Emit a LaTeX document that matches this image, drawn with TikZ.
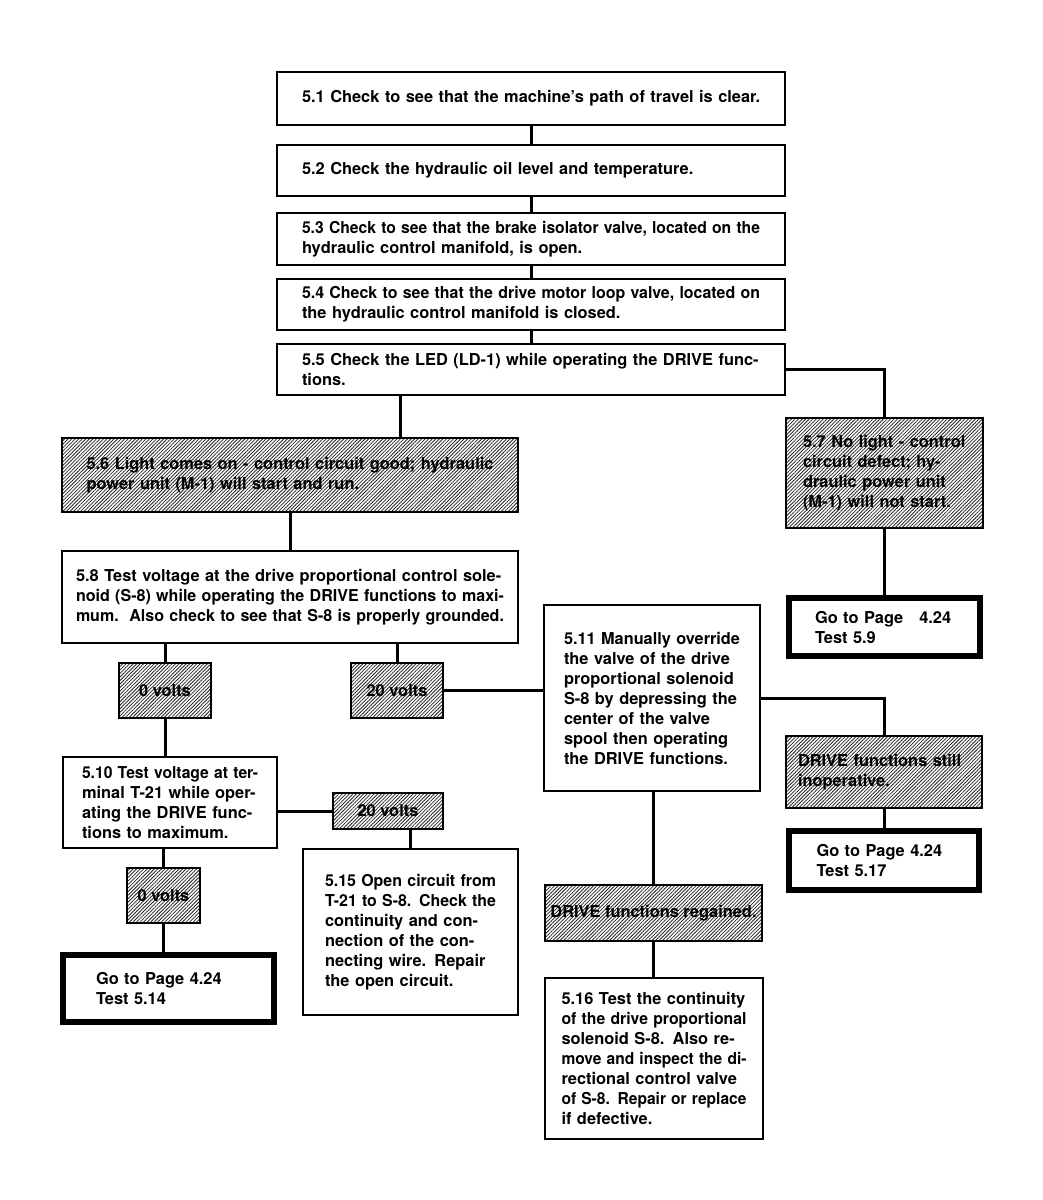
\documentclass[tikz,border=0pt]{standalone}
\usepackage{fontspec}
\setmainfont{TeX Gyre Heros}
\usepackage{graphicx}
\usetikzlibrary{patterns.meta}

\tikzset{
	stepbox/.style={draw, line width=2pt, font=\fontsize{16.4}{20}\selectfont\bfseries, align=left, inner ysep=0pt},
	hatchbox/.style={stepbox, preaction={fill=white}, pattern={Lines[angle=45,distance=2.5pt,line width=0.8pt]}, pattern color=black!85},
	gotobox/.style={stepbox, line width=6pt},
	link/.style={line width=3pt},
}
% full (justified) line, squeezed when too long
\newsavebox\flbox
\newcommand\fl[1]{\leavevmode\sbox\flbox{#1}\ifdim\wd\flbox>\linewidth\resizebox{\linewidth}{\height}{#1}\else\makebox[\linewidth][s]{#1}\fi}

\begin{document}
\begin{tikzpicture}[x=1pt,y=1pt,yscale=-1,xscale=1]
	\useasboundingbox (0,0) rectangle (1043,1200);

	% Text Node
	\node [stepbox, text width=458pt, inner xsep=25pt, minimum height=53pt] (b51) at (531,98.5) {\mbox{5.1 Check to see that the machine's path of travel is clear.}};
	% Text Node
	\node [stepbox, text width=458pt, inner xsep=25pt, minimum height=51pt] (b52) at (531,170.5) {5.2 Check the hydraulic oil level and temperature.};
	% Text Node
	\node [stepbox, text width=458pt, inner xsep=25pt, minimum height=52pt] (b53) at (531,239) {\fl{5.3 Check to see that the brake isolator valve, located on the}\\ hydraulic control manifold, is open.};
	% Text Node
	\node [stepbox, text width=458pt, inner xsep=25pt, minimum height=51pt] (b54) at (531,304.5) {\fl{5.4 Check to see that the drive motor loop valve, located on}\\ the hydraulic control manifold is closed.};
	% Text Node
	\node [stepbox, text width=458pt, inner xsep=25pt, minimum height=51pt] (b55) at (531,369.5) {\fl{5.5 Check the LED (LD-1) while operating the DRIVE func-}\\ tions.};

	% Text Node
	\node [hatchbox, text width=407pt, inner xsep=24.5pt, minimum height=74pt] (b56) at (290,475) {\fl{5.6 Light comes on - control circuit good; hydraulic}\\ power unit (M-1) will start and run.};
	% Text Node
	\node [hatchbox, text width=163pt, inner xsep=17pt, minimum height=110pt] (b57) at (884.5,473) {\fl{5.7 No light - control}\\ \fl{circuit defect; hy-}\\ \fl{draulic power unit}\\ (M-1) will not start.};
	% Text Node
	\node [gotobox, text width=139pt, inner xsep=26pt, minimum height=58pt] (go59) at (884.5,627) {Go to Page\hspace{16pt}4.24\\ Test 5.9};

	% Text Node
	\node [stepbox, text width=428pt, inner xsep=14pt, minimum height=92pt] (b58) at (290,597) {\fl{5.8 Test voltage at the drive proportional control sole-}\\ \fl{noid (S-8) while operating the DRIVE functions to maxi-}\\ \fl{mum.\ \ Also check to see that S-8 is properly grounded.}};
	% Text Node
	\node [hatchbox, minimum width=92pt, minimum height=55pt] (v0a) at (165,690.5) {0 volts};
	% Text Node
	\node [hatchbox, minimum width=92pt, minimum height=55pt] (v20a) at (397,690.5) {20 volts};

	% Text Node
	\node [stepbox, text width=176pt, inner xsep=19pt, minimum height=91pt] (b510) at (170,802.5) {\fl{5.10 Test voltage at ter-}\\ \fl{minal T-21 while oper-}\\ \fl{ating the DRIVE func-}\\ tions to maximum.};
	% Text Node
	\node [hatchbox, minimum width=110pt, minimum height=36pt] (v20b) at (388,811) {20 volts};
	% Text Node
	\node [stepbox, text width=171pt, inner xsep=22pt, minimum height=166pt] (b515) at (410.5,932) {\fl{5.15 Open circuit from}\\ \fl{T-21 to S-8. Check the}\\ \fl{continuity and con-}\\ \fl{nection of the con-}\\ \fl{necting wire. Repair}\\ the open circuit.};
	% Text Node
	\node [hatchbox, minimum width=73pt, minimum height=55pt] (v0b) at (163.5,895.5) {0 volts};
	% Text Node
	\node [gotobox, text width=145pt, inner xsep=33pt, minimum height=67pt] (go514) at (168.5,988.5) {\makebox[140pt][s]{Go to Page 4.24}\\ Test 5.14};

	% Text Node
	\node [stepbox, text width=176pt, inner xsep=20pt, minimum height=186pt] (b511) at (652,698) {\fl{5.11 Manually override}\\ \fl{the valve of the drive}\\ \fl{proportional solenoid}\\ \fl{S-8 by depressing the}\\ \fl{center of the valve}\\ \fl{spool then operating}\\ the DRIVE functions.};
	% Text Node
	\node [hatchbox, text width=172pt, inner xsep=12pt, minimum height=72pt] (bstill) at (884,772) {\fl{DRIVE functions still}\\ inoperative.};
	% Text Node
	\node [gotobox, text width=135pt, inner xsep=27.5pt, minimum height=59pt] (go517) at (884,860.5) {\makebox[135pt][s]{Go to Page 4.24}\\ Test 5.17};
	% Text Node
	\node [hatchbox, minimum width=217pt, minimum height=56pt] (bregain) at (653.5,913) {DRIVE functions regained.};
	% Text Node
	\node [stepbox, text width=185pt, inner xsep=16.5pt, minimum height=161pt] (b516) at (654,1058.5) {\fl{5.16 Test the continuity}\\ \fl{of the drive proportional}\\ \fl{solenoid S-8. Also re-}\\ \fl{move and inspect the di-}\\ \fl{rectional control valve}\\ \fl{of S-8. Repair or replace}\\ if defective.};

	%Straight Lines
	\draw [link] (b51) -- (b52);
	\draw [link] (b52) -- (b53);
	\draw [link] (b53) -- (b54);
	\draw [link] (b54) -- (b55);
	\draw [link] ([xshift=-131pt]b55.south) -- ([xshift=-131pt]b55.south |- b56.north);
	\draw [link] (b55.east) -| (b57.north);
	\draw [link] (b57) -- (go59);
	\draw [link] (b56) -- (b58);
	\draw [link] (v0a.north |- b58.south) -- (v0a.north);
	\draw [link] (v20a.north |- b58.south) -- (v20a.north);
	\draw [link] (v20a.east) -- (v20a.east -| b511.west);
	\draw [link] (v0a.south) -- (v0a.south |- b510.north);
	\draw [link] (b510.east |- v20b.west) -- (v20b.west);
	\draw [link] (b515.north |- v20b.south) -- (b515.north);
	\draw [link] (v0b.north |- b510.south) -- (v0b.north);
	\draw [link] (v0b.south) -- (v0b.south |- go514.north);
	\draw [link] (b511.east) -| (bstill.north);
	\draw [link] (bstill) -- (go517);
	\draw [link] (bregain.north |- b511.south) -- (bregain.north);
	\draw [link] (bregain.south) -- (bregain.south |- b516.north);

\end{tikzpicture}
\end{document}
